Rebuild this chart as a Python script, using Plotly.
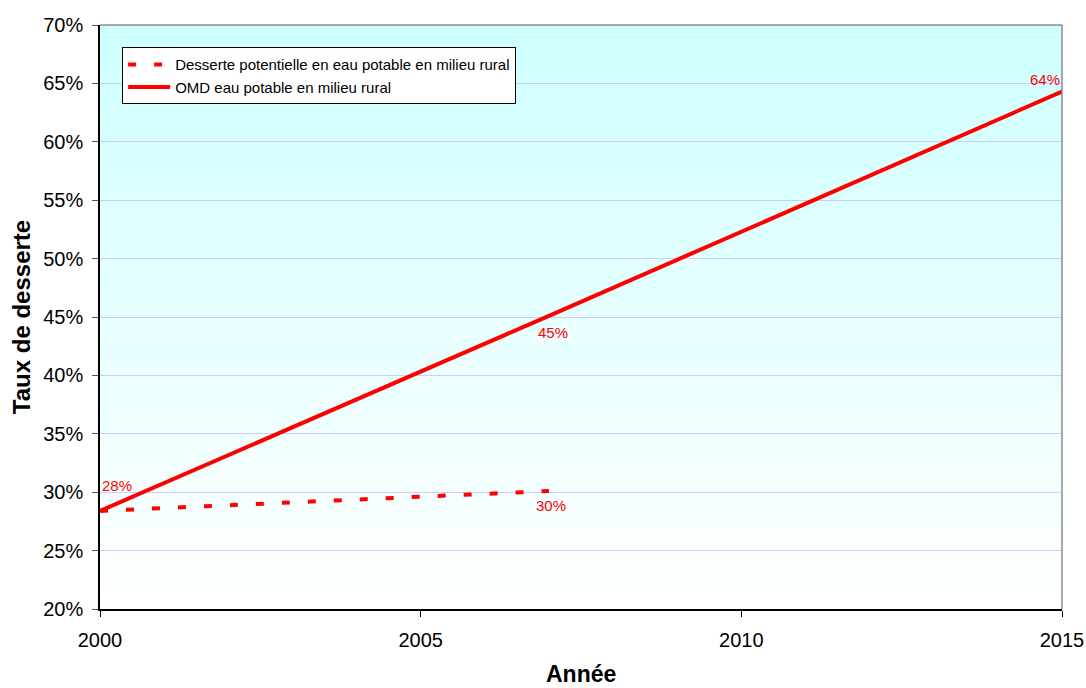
import plotly.graph_objects as go

# Served-population rates (share of rural population), by year
annees_omd = [2000, 2007, 2015]
taux_omd = [0.284, 0.451, 0.643]

annees_desserte = [2000, 2007]
taux_desserte = [0.284, 0.301]

nom_desserte = "Desserte potentielle en eau potable en milieu rural"
nom_omd = "OMD eau potable en milieu rural"

FONT = "Arial, Liberation Sans, sans-serif"
ROUGE = "#FF0000"

fig = go.Figure()

fig.add_trace(go.Scatter(
    x=annees_desserte, y=taux_desserte, name=nom_desserte,
    mode="lines",
    line=dict(color=ROUGE, width=4, dash="8px,18px"),
))
fig.add_trace(go.Scatter(
    x=annees_omd, y=taux_omd, name=nom_omd,
    mode="lines",
    line=dict(color=ROUGE, width=4),
))

# Value labels next to the points (pixel offsets per point)
annotations = []
offsets_omd = [(17, 25), (4, -17), (-17, 12)]
for x, y, (dx, dy) in zip(annees_omd, taux_omd, offsets_omd):
    annotations.append(dict(
        x=x, y=y, xref="x", yref="y", text=f"{y:.0%}", showarrow=False,
        xshift=dx, yshift=dy, font=dict(color=ROUGE, size=15, family=FONT),
    ))
annotations.append(dict(
    x=annees_desserte[-1], y=taux_desserte[-1], xref="x", yref="y",
    text=f"{taux_desserte[-1]:.0%}", showarrow=False,
    xshift=2, yshift=-14, font=dict(color=ROUGE, size=15, family=FONT),
))
# X axis title
annotations.append(dict(
    x=0.5, y=-0.111, xref="paper", yref="paper", xanchor="center", yanchor="middle",
    text="<b>Année</b>", showarrow=False, font=dict(size=23, family=FONT, color="black"),
))

# Vertical background gradient: light cyan at the top fading to white
shapes = []
n = 120
for i in range(n):
    t = i / (n - 1)
    r = int(round(255 - (255 - 204) * t))
    shapes.append(dict(
        type="rect", xref="x domain", yref="y domain",
        x0=0, x1=1, y0=i / n, y1=(i + 1) / n,
        fillcolor=f"rgb({r},255,255)", line=dict(width=0), layer="below",
    ))
# Grey frame on the top and right edges of the plot area
shapes.append(dict(type="line", xref="x domain", yref="y domain",
                   x0=0, x1=1, y0=1, y1=1, line=dict(color="#8C8C8C", width=1.5)))
shapes.append(dict(type="line", xref="x domain", yref="y domain",
                   x0=1, x1=1, y0=0, y1=1, line=dict(color="#8C8C8C", width=1.5)))

fig.update_layout(
    width=1086, height=688,
    margin=dict(l=100, r=24, t=25, b=79),
    paper_bgcolor="white", plot_bgcolor="rgba(0,0,0,0)",
    font=dict(family=FONT, color="black"),
    shapes=shapes,
    annotations=annotations,
    showlegend=True,
    legend=dict(
        x=0.023, y=0.962, xanchor="left", yanchor="top",
        bgcolor="white", bordercolor="black", borderwidth=1,
        font=dict(size=15, family=FONT), itemwidth=42,
    ),
    xaxis=dict(
        range=[2000, 2015], tick0=2000, dtick=5, automargin=False,
        showgrid=False, zeroline=False,
        showline=True, linecolor="black", linewidth=1.5,
        ticks="outside", ticklen=6, tickcolor="black",
        ticklabelstandoff=6,
        tickfont=dict(size=20, family=FONT),
    ),
    yaxis=dict(
        range=[0.20, 0.70], tick0=0.20, dtick=0.05, tickformat=".0%",
        automargin=False,
        showgrid=True, gridcolor="#CCCCFF", gridwidth=1.2,
        zeroline=False,
        showline=True, linecolor="black", linewidth=1.5,
        ticks="outside", ticklen=6, tickcolor="#555555",
        ticklabelstandoff=5,
        tickfont=dict(size=20, family=FONT),
        title=dict(text="<b>Taux de desserte</b>", font=dict(size=24, family=FONT), standoff=6),
    ),
)

fig.write_html("out.html")
